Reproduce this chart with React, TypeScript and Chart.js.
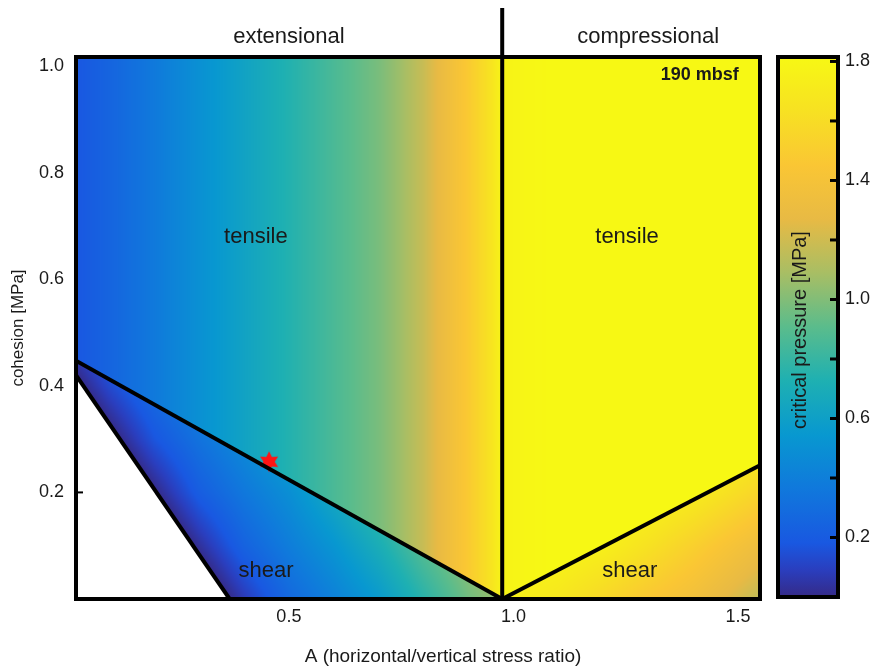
import React, { useEffect, useRef } from "react";
import { Chart, registerables } from "chart.js";

Chart.register(...registerables);

// ---------- axes ----------
const X_MIN = 0.026;
const X_MAX = 1.549;
const Y_MIN = 0;
const Y_MAX = 1.017;
const xTickValues = [0.5, 1.0, 1.5];
const yTickValues = [0.2, 0.4, 0.6, 0.8, 1.0];

// ---------- colour bar ----------
const cbarMin = 0;
const cbarMax = 1.815;
const cbarTickValues = [0.2, 0.4, 0.6, 0.8, 1.0, 1.2, 1.4, 1.6, 1.8];
const cbarTickLabels = [0.2, 0.6, 1.0, 1.4, 1.8];

// parula-like colormap stops: [t, r, g, b]
const colormapStops = [
  [0.0, 53, 42, 135],
  [0.05, 42, 62, 190],
  [0.1, 25, 88, 225],
  [0.2, 16, 120, 220],
  [0.3, 8, 152, 208],
  [0.4, 30, 176, 178],
  [0.5, 90, 188, 140],
  [0.6, 168, 190, 100],
  [0.7, 232, 186, 68],
  [0.8, 250, 198, 52],
  [0.9, 247, 225, 34],
  [1.0, 247, 248, 20],
];

// ---------- critical pressure field [MPa] ----------
// tensile regime: depends on A only
const tensileX = [0, 0.1, 0.2, 0.3, 0.4, 0.5, 0.6, 0.7, 0.75, 0.8, 0.85, 0.9, 0.95, 0.975, 1.1, 1.55];
const tensileP = [0.15, 0.25, 0.37, 0.5, 0.62, 0.74, 0.86, 0.98, 1.07, 1.18, 1.33, 1.48, 1.65, 1.78, 1.82, 1.82];

// extensional shear regime grid (rows = cohesion, cols = A)
const leftShearX = [0, 0.1, 0.2, 0.3, 0.4, 0.5, 0.6, 0.7, 0.8, 0.9, 1.0];
const leftShearY = [0, 0.1, 0.2, 0.3, 0.4, 0.5];
const leftShearP = [
  [-0.8, -0.59, -0.37, -0.15, 0.07, 0.27, 0.41, 0.56, 0.76, 0.96, 1.1],
  [-0.63, -0.41, -0.19, 0.03, 0.24, 0.39, 0.53, 0.7, 0.9, 1.06, 1.2],
  [-0.45, -0.23, -0.01, 0.21, 0.36, 0.49, 0.66, 0.84, 0.99, 1.12, 1.24],
  [-0.27, -0.05, 0.17, 0.33, 0.47, 0.63, 0.81, 0.95, 1.07, 1.18, 1.28],
  [-0.09, 0.13, 0.3, 0.44, 0.6, 0.77, 0.93, 1.05, 1.16, 1.27, 1.37],
  [0.09, 0.28, 0.42, 0.56, 0.74, 0.9, 1.03, 1.14, 1.25, 1.35, 1.45],
];

// compressional shear regime grid
const rightShearX = [0.95, 1.1, 1.2, 1.3, 1.4, 1.55];
const rightShearY = [0, 0.1, 0.2, 0.3];
const rightShearP = [
  [1.78, 1.68, 1.57, 1.46, 1.36, 1.15],
  [1.8, 1.8, 1.75, 1.64, 1.52, 1.33],
  [1.82, 1.82, 1.82, 1.8, 1.72, 1.55],
  [1.82, 1.82, 1.82, 1.82, 1.82, 1.75],
];

// ---------- boundary lines ----------
const upperLineX = [0.026, 0.975];
const upperLineY = [0.447, 0];
const leftLineX = [0.026, 0.368];
const leftLineY = [0.42, 0];
const rightLineX = [0.975, 1.549];
const rightLineY = [0, 0.251];
const dividerX = [0.975, 0.975];
const dividerY = [0, 1.109];

// observed point
const starX = [0.456];
const starY = [0.2576];

// ---------- text ----------
const regionLabels = ["tensile", "tensile", "shear", "shear"];
const regionLabelX = [0.4265, 1.253, 0.449, 1.259];
const regionLabelY = [0.679, 0.679, 0.0525, 0.0525];
const topLabels = ["extensional", "compressional"];
const topLabelX = [0.5, 1.3];
const depthLabel = "190 mbsf";
const depthLabelX = 1.415;
const depthLabelY = 0.983;
const xTitle = "A (horizontal/vertical stress ratio)";
const yTitle = "cohesion [MPa]";
const cbarTitle = "critical pressure [MPa]";

const FONT = "'Liberation Sans', Arial, Helvetica, sans-serif";
const TEXT = "#1a1a1a";

function interp1(xs: number[], ys: number[], x: number): number {
  const n = xs.length;
  if (x <= xs[0]) return ys[0];
  if (x >= xs[n - 1]) return ys[n - 1];
  let i = 0;
  while (i < n - 2 && x > xs[i + 1]) i++;
  const f = (x - xs[i]) / (xs[i + 1] - xs[i]);
  return ys[i] + f * (ys[i + 1] - ys[i]);
}

function idx(xs: number[], x: number): [number, number] {
  const n = xs.length;
  if (x <= xs[0]) return [0, 0];
  if (x >= xs[n - 1]) return [n - 2, 1];
  let i = 0;
  while (i < n - 2 && x > xs[i + 1]) i++;
  return [i, (x - xs[i]) / (xs[i + 1] - xs[i])];
}

function interp2(xs: number[], ys: number[], g: number[][], x: number, y: number): number {
  const [i, fx] = idx(xs, x);
  const [j, fy] = idx(ys, y);
  const a = g[j][i] + fx * (g[j][i + 1] - g[j][i]);
  const b = g[j + 1][i] + fx * (g[j + 1][i + 1] - g[j + 1][i]);
  return a + fy * (b - a);
}

function lineAt(lx: number[], ly: number[], x: number): number {
  return ly[0] + ((x - lx[0]) * (ly[1] - ly[0])) / (lx[1] - lx[0]);
}

function colorFor(v: number): [number, number, number] {
  let t = (v - cbarMin) / (cbarMax - cbarMin);
  if (t < 0) t = 0;
  if (t > 1) t = 1;
  let k = 0;
  while (k < colormapStops.length - 2 && t > colormapStops[k + 1][0]) k++;
  const s0 = colormapStops[k];
  const s1 = colormapStops[k + 1];
  const f = (t - s0[0]) / (s1[0] - s0[0]);
  return [
    s0[1] + f * (s1[1] - s0[1]),
    s0[2] + f * (s1[2] - s0[2]),
    s0[3] + f * (s1[3] - s0[3]),
  ];
}

function makeStar(): HTMLCanvasElement {
  const c = document.createElement("canvas");
  c.width = 24;
  c.height = 24;
  const g = c.getContext("2d")!;
  g.fillStyle = "#ff1414";
  g.beginPath();
  const R = 10.5, r = 5.6;
  for (let k = 0; k < 12; k++) {
    const ang = -Math.PI / 2 + (k * Math.PI) / 6;
    const rad = k % 2 === 0 ? R : r;
    const px = 12 + rad * Math.cos(ang);
    const py = 12 + rad * Math.sin(ang);
    if (k === 0) g.moveTo(px, py);
    else g.lineTo(px, py);
  }
  g.closePath();
  g.fill();
  return c;
}

const heatmapPlugin = {
  id: "heatmap",
  beforeDatasetsDraw(chart: any) {
    const { ctx, chartArea, scales } = chart;
    const xs = scales.x;
    const ys = scales.y;
    const left = Math.round(chartArea.left);
    const top = Math.round(chartArea.top);
    const w = Math.round(chartArea.right) - left;
    const h = Math.round(chartArea.bottom) - top;
    const img = ctx.createImageData(w, h);
    const d = img.data;
    for (let j = 0; j < h; j++) {
      const yv = ys.getValueForPixel(top + j + 0.5);
      for (let i = 0; i < w; i++) {
        const xv = xs.getValueForPixel(left + i + 0.5);
        let v: number | null;
        if (xv < dividerX[0]) {
          const yU = lineAt(upperLineX, upperLineY, xv);
          if (yv >= yU) v = interp1(tensileX, tensileP, xv);
          else {
            const yL = xv <= leftLineX[1] ? lineAt(leftLineX, leftLineY, xv) : -Infinity;
            if (yv < yL) v = null;
            else v = interp2(leftShearX, leftShearY, leftShearP, xv, yv);
          }
        } else {
          const yR = lineAt(rightLineX, rightLineY, xv);
          if (yv >= yR) v = interp1(tensileX, tensileP, xv);
          else v = interp2(rightShearX, rightShearY, rightShearP, xv, yv);
        }
        const o = (j * w + i) * 4;
        if (v === null) {
          d[o] = 255; d[o + 1] = 255; d[o + 2] = 255;
        } else {
          const c = colorFor(v);
          d[o] = c[0]; d[o + 1] = c[1]; d[o + 2] = c[2];
        }
        d[o + 3] = 255;
      }
    }
    ctx.putImageData(img, left, top);
  },
  afterDatasetsDraw(chart: any) {
    const { ctx, chartArea, scales } = chart;
    const xs = scales.x;
    const ys = scales.y;
    ctx.save();
    ctx.strokeStyle = "#000";
    ctx.lineWidth = 4;
    ctx.strokeRect(chartArea.left, chartArea.top, chartArea.right - chartArea.left, chartArea.bottom - chartArea.top);
    // small inward tick at the lowest y tick
    ctx.lineWidth = 2;
    const p02 = ys.getPixelForValue(yTickValues[0]);
    ctx.beginPath();
    ctx.moveTo(chartArea.left, p02);
    ctx.lineTo(chartArea.left + 7, p02);
    ctx.stroke();
    ctx.fillStyle = TEXT;
    ctx.textAlign = "center";
    ctx.textBaseline = "middle";
    ctx.font = `22px ${FONT}`;
    topLabels.forEach((t, k) => {
      ctx.fillText(t, xs.getPixelForValue(topLabelX[k]), chartArea.top - 20);
    });
    regionLabels.forEach((t, k) => {
      ctx.fillText(t, xs.getPixelForValue(regionLabelX[k]), ys.getPixelForValue(regionLabelY[k]));
    });
    ctx.font = `bold 18px ${FONT}`;
    ctx.fillText(depthLabel, xs.getPixelForValue(depthLabelX), ys.getPixelForValue(depthLabelY));
    ctx.font = `19px ${FONT}`;
    ctx.fillText(xTitle, (chartArea.left + chartArea.right) / 2 + 25, chart.height - 13);
    ctx.restore();
  },
};

const cbarPlugin = {
  id: "cbar",
  beforeDatasetsDraw(chart: any) {
    const { ctx, chartArea, scales } = chart;
    const ys = scales.y;
    const y0 = ys.getPixelForValue(cbarMin);
    const y1 = ys.getPixelForValue(cbarMax);
    const grad = ctx.createLinearGradient(0, y0, 0, y1);
    colormapStops.forEach((s) => grad.addColorStop(s[0], `rgb(${s[1]},${s[2]},${s[3]})`));
    ctx.save();
    ctx.fillStyle = grad;
    ctx.fillRect(chartArea.left, chartArea.top, chartArea.right - chartArea.left, chartArea.bottom - chartArea.top);
    ctx.strokeStyle = "#000";
    ctx.lineWidth = 4;
    ctx.strokeRect(chartArea.left, chartArea.top, chartArea.right - chartArea.left, chartArea.bottom - chartArea.top);
    ctx.lineWidth = 3;
    cbarTickValues.forEach((v) => {
      const py = ys.getPixelForValue(v);
      ctx.beginPath();
      ctx.moveTo(chartArea.right - 8, py);
      ctx.lineTo(chartArea.right, py);
      ctx.stroke();
    });
    ctx.translate(chartArea.left + 22, 330);
    ctx.rotate(-Math.PI / 2);
    ctx.fillStyle = TEXT;
    ctx.font = `20px ${FONT}`;
    ctx.textAlign = "center";
    ctx.textBaseline = "middle";
    ctx.fillText(cbarTitle, 0, 0);
    ctx.restore();
  },
};

const pts = (xs: number[], ys: number[]) => xs.map((x, i) => ({ x, y: ys[i] }));

export default function App() {
  const mainRef = useRef<HTMLCanvasElement>(null);
  const cbarRef = useRef<HTMLCanvasElement>(null);

  useEffect(() => {
    const lineDs = (xs: number[], ys: number[], clip: any = undefined) => ({
      data: pts(xs, ys),
      showLine: true,
      borderColor: "#000",
      borderWidth: 4,
      pointRadius: 0,
      fill: false,
      clip,
    });
    const main = new Chart(mainRef.current!, {
      type: "scatter",
      data: {
        datasets: [
          lineDs(upperLineX, upperLineY),
          lineDs(leftLineX, leftLineY),
          lineDs(rightLineX, rightLineY),
          lineDs(dividerX, dividerY, false),
          {
            data: pts(starX, starY),
            pointStyle: makeStar() as any,
            pointRadius: 10,
            showLine: false,
          } as any,
        ],
      },
      options: {
        animation: false,
        responsive: false,
        layout: { padding: { left: 0, top: 57, right: 112, bottom: 0 } },
        plugins: { legend: { display: false }, tooltip: { enabled: false } },
        scales: {
          x: {
            type: "linear",
            min: X_MIN,
            max: X_MAX,
            afterBuildTicks: (s: any) => {
              s.ticks = xTickValues.map((v) => ({ value: v }));
            },
            afterFit: (s: any) => {
              s.height = 71;
            },
            grid: { display: false, drawTicks: false },
            border: { display: false },
            ticks: {
              padding: 7,
              color: TEXT,
              font: { size: 18, family: FONT },
              callback: (v: any) => Number(v).toFixed(1),
            },
          },
          y: {
            type: "linear",
            min: Y_MIN,
            max: Y_MAX,
            afterBuildTicks: (s: any) => {
              s.ticks = yTickValues.map((v) => ({ value: v }));
            },
            afterFit: (s: any) => {
              s.width = 76;
            },
            grid: { display: false, drawTicks: false },
            border: { display: false },
            ticks: {
              padding: 12,
              color: TEXT,
              font: { size: 18, family: FONT },
              callback: (v: any) => Number(v).toFixed(1),
            },
            title: {
              display: true,
              text: yTitle,
              color: TEXT,
              font: { size: 17, family: FONT },
              padding: { top: 8, bottom: 0 },
            },
          },
        },
      },
      plugins: [heatmapPlugin],
    });

    const cbar = new Chart(cbarRef.current!, {
      type: "scatter",
      data: { datasets: [] },
      options: {
        animation: false,
        responsive: false,
        layout: { padding: { left: 18, top: 57, right: 0, bottom: 73 } },
        plugins: { legend: { display: false }, tooltip: { enabled: false } },
        scales: {
          x: { display: false, min: 0, max: 1 },
          y: {
            type: "linear",
            position: "right",
            min: cbarMin,
            max: cbarMax,
            afterBuildTicks: (s: any) => {
              s.ticks = cbarTickValues.map((v) => ({ value: v }));
            },
            afterFit: (s: any) => {
              s.width = 34;
            },
            grid: { display: false, drawTicks: false },
            border: { display: false },
            ticks: {
              padding: 7,
              color: TEXT,
              font: { size: 18, family: FONT },
              callback: (v: any) => (cbarTickLabels.some((l) => Math.abs(l - Number(v)) < 1e-6) ? Number(v).toFixed(1) : ""),
            },
          },
        },
      },
      plugins: [cbarPlugin],
    });

    return () => {
      main.destroy();
      cbar.destroy();
    };
  }, []);

  return (
    <div style={{ position: "fixed", left: 0, top: 0, width: 872, height: 670, background: "#fff" }}>
      <canvas ref={mainRef} width={872} height={670} style={{ position: "absolute", left: 0, top: 0 }} />
      <canvas ref={cbarRef} width={112} height={670} style={{ position: "absolute", left: 760, top: 0 }} />
    </div>
  );
}
